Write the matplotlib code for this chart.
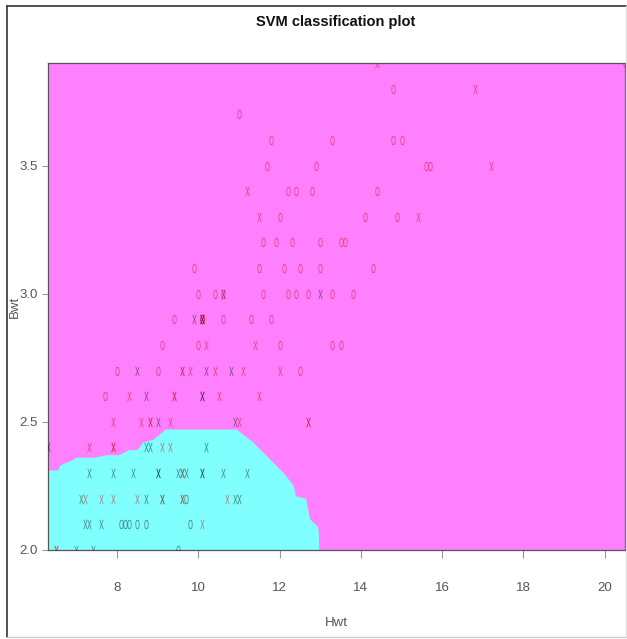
import matplotlib
matplotlib.use("Agg")
import matplotlib.pyplot as plt
from matplotlib.textpath import TextPath
from matplotlib.font_manager import FontProperties
from matplotlib.transforms import Affine2D
from matplotlib.lines import Line2D
import numpy as np

# cats data: body weight (Bwt, kg) and heart weight (Hwt, g), by sex
bwt_f = [2.0, 2.0, 2.0,
         2.1, 2.1, 2.1, 2.1, 2.1, 2.1, 2.1, 2.1, 2.1,
         2.2, 2.2, 2.2, 2.2, 2.2, 2.2,
         2.3, 2.3, 2.3, 2.3, 2.3, 2.3, 2.3, 2.3, 2.3, 2.3, 2.3, 2.3,
         2.4, 2.4, 2.4, 2.4,
         2.5, 2.5,
         2.6, 2.6, 2.6,
         2.7, 2.7, 2.7,
         2.9, 2.9, 2.9,
         3.0, 3.0]
hwt_f = [7.0, 7.4, 9.5,
         7.2, 7.3, 7.6, 8.1, 8.2, 8.3, 8.5, 8.7, 9.8,
         7.1, 8.7, 9.1, 9.7, 10.9, 11.0,
         7.3, 7.9, 8.4, 9.0, 9.0, 9.5, 9.6, 9.7, 10.1, 10.1, 10.6, 11.2,
         6.3, 8.7, 8.8, 10.2,
         9.0, 10.9,
         8.7, 10.1, 10.1,
         8.5, 10.2, 10.8,
         9.9, 10.1, 10.1,
         10.6, 13.0]
# 1 = support vector ("x"), 0 = ordinary point ("o")
sv_f = [1, 1, 0,
        1, 1, 1, 0, 0, 0, 0, 0, 0,
        1, 1, 1, 0, 1, 1,
        1, 1, 1, 1, 1, 1, 1, 1, 1, 1, 1, 1,
        1, 1, 1, 1,
        1, 1,
        1, 1, 1,
        1, 1, 1,
        1, 1, 1,
        1, 1]

bwt_m = [2.0, 2.0,
         2.1,
         2.2, 2.2, 2.2, 2.2, 2.2, 2.2, 2.2, 2.2,
         2.3,
         2.4, 2.4, 2.4, 2.4, 2.4,
         2.5, 2.5, 2.5, 2.5, 2.5, 2.5, 2.5, 2.5,
         2.6, 2.6, 2.6, 2.6, 2.6, 2.6,
         2.7, 2.7, 2.7, 2.7, 2.7, 2.7, 2.7, 2.7, 2.7,
         2.8, 2.8, 2.8, 2.8, 2.8, 2.8, 2.8,
         2.9, 2.9, 2.9, 2.9, 2.9, 2.9, 2.9,
         3.0, 3.0, 3.0, 3.0, 3.0, 3.0, 3.0, 3.0, 3.0,
         3.1, 3.1, 3.1, 3.1, 3.1, 3.1,
         3.2, 3.2, 3.2, 3.2, 3.2, 3.2,
         3.3, 3.3, 3.3, 3.3, 3.3,
         3.4, 3.4, 3.4, 3.4, 3.4,
         3.5, 3.5, 3.5, 3.5, 3.5,
         3.6, 3.6, 3.6, 3.6,
         3.7,
         3.8, 3.8,
         3.9, 3.9]
hwt_m = [6.5, 6.5,
         10.1,
         7.2, 7.6, 7.9, 8.5, 9.1, 9.6, 9.6, 10.7,
         9.6,
         7.3, 7.9, 7.9, 9.1, 9.3,
         7.9, 8.6, 8.8, 8.8, 9.3, 11.0, 12.7, 12.7,
         7.7, 8.3, 9.4, 9.4, 10.5, 11.5,
         8.0, 9.0, 9.6, 9.6, 9.8, 10.4, 11.1, 12.0, 12.5,
         9.1, 10.0, 10.2, 11.4, 12.0, 13.3, 13.5,
         9.4, 10.1, 10.1, 10.1, 10.6, 11.3, 11.8,
         10.0, 10.4, 10.6, 11.6, 12.2, 12.4, 12.7, 13.3, 13.8,
         9.9, 11.5, 12.1, 12.5, 13.0, 14.3,
         11.6, 11.9, 12.3, 13.0, 13.5, 13.6,
         11.5, 12.0, 14.1, 14.9, 15.4,
         11.2, 12.2, 12.4, 12.8, 14.4,
         11.7, 12.9, 15.6, 15.7, 17.2,
         11.8, 13.3, 14.8, 15.0,
         11.0,
         14.8, 16.8,
         14.4, 20.5]
sv_m = [1, 1,
        1,
        1, 1, 1, 1, 1, 1, 1, 1,
        1,
        1, 1, 1, 1, 1,
        1, 1, 1, 1, 1, 1, 1, 1,
        0, 1, 1, 1, 1, 1,
        0, 0, 1, 1, 1, 1, 1, 1, 0,
        0, 0, 1, 1, 0, 0, 0,
        0, 0, 0, 0, 0, 0, 0,
        0, 0, 0, 0, 0, 0, 0, 0, 0,
        0, 0, 0, 0, 0, 0,
        0, 0, 0, 0, 0, 0,
        1, 0, 0, 0, 1,
        1, 0, 0, 0, 0,
        0, 0, 0, 0, 1,
        0, 0, 0, 0,
        0,
        0, 1,
        1, 0]

# decision boundary between the two predicted classes (F region below)
boundary_hwt = [6.3, 6.55, 6.6, 6.9, 7.0, 7.45, 7.75, 8.05, 8.3, 8.5, 8.65,
                8.9, 9.2, 10.95, 11.1, 11.35, 11.6, 11.85, 12.1, 12.35,
                12.4, 12.65, 12.7, 12.75, 12.95, 12.97, 12.97]
boundary_bwt = [2.31, 2.31, 2.33, 2.35, 2.36, 2.36, 2.37, 2.37, 2.39, 2.39, 2.42,
                2.43, 2.47, 2.47, 2.45, 2.42, 2.38, 2.34, 2.30, 2.25,
                2.21, 2.20, 2.16, 2.12, 2.09, 2.05, 2.0]

xticks = [8, 10, 12, 14, 16, 18, 20]
yticks = [2.0, 2.5, 3.0, 3.5]

plt.rcParams["font.family"] = ["Liberation Sans", "DejaVu Sans"]


def glyph(ch, stretch=1.9):
    # character outline used as a marker, drawn taller than wide
    tp = TextPath((0, 0), ch, size=1, prop=FontProperties(family="Liberation Sans"))
    ext = tp.get_extents()
    cx, cy = (ext.x0 + ext.x1) / 2, (ext.y0 + ext.y1) / 2
    return tp.transformed(Affine2D().translate(-cx, -cy).scale(1, stretch))


fig = plt.figure(figsize=(6.27, 6.39), dpi=100)
ax = fig.add_axes([48 / 627, 89 / 639, 577 / 627, 487 / 639])

magenta = "#FF80FF"
cyan = "#80FFFF"
ax.set_facecolor(magenta)
poly_x = boundary_hwt + [6.3]
poly_y = boundary_bwt + [2.0]
ax.fill(poly_x, poly_y, color=cyan, lw=0, zorder=1)

mark_x = glyph("x")
mark_o = glyph("o")

groups = [(hwt_f, bwt_f, sv_f, "black", 0.42), (hwt_m, bwt_m, sv_m, "#D80000", 0.45)]
for hw, bw, sv, col, a in groups:
    hw = np.array(hw)
    bw = np.array(bw)
    sv = np.array(sv, dtype=bool)
    ax.scatter(hw[sv], bw[sv], marker=mark_x, s=46, color=col, alpha=a, lw=0, zorder=3)
    ax.scatter(hw[~sv], bw[~sv], marker=mark_o, s=46, color=col, alpha=a, lw=0, zorder=3)

ax.set_xlim(6.3, 20.5)
ax.set_ylim(2.0, 3.9)
ax.set_xticks(xticks)
ax.set_xticklabels([str(t) for t in xticks])
ax.set_yticks(yticks)
ax.set_yticklabels(["%.1f" % t for t in yticks])
ax.tick_params(axis="both", colors="#999999", labelcolor="#555555", labelsize=9.5,
               width=0.8, direction="out")
ax.tick_params(axis="x", length=6, pad=17)
ax.tick_params(axis="y", length=4.5, pad=3)
for sp in ax.spines.values():
    sp.set_color("#555555")
    sp.set_linewidth(0.9)

ax.set_xlabel("Hwt", fontsize=9.5, color="#555555")
ax.xaxis.set_label_coords(0.5, -67 / 487)
ax.set_ylabel("Bwt", fontsize=9.5, color="#555555")
ax.yaxis.set_label_coords(-27 / 577, 0.5)
fig.text(336 / 627, 1 - 22 / 639, "SVM classification plot", ha="center", va="center",
         fontsize=10.5, fontweight="bold", color="#111111")

# outer frame
fig.add_artist(Line2D([7 / 627, 7 / 627], [1 - 6 / 639, 1 - 637 / 639], color="#333333", lw=1.2))
fig.add_artist(Line2D([7 / 627, 626 / 627], [1 - 6 / 639, 1 - 6 / 639], color="#333333", lw=1.2))
fig.add_artist(Line2D([7 / 627, 626 / 627], [1 - 637 / 639, 1 - 637 / 639], color="#cccccc", lw=1.0))
fig.add_artist(Line2D([626 / 627, 626 / 627], [1 - 6 / 639, 1 - 637 / 639], color="#dddddd", lw=1.0))

fig.savefig("out.png", dpi=100)
